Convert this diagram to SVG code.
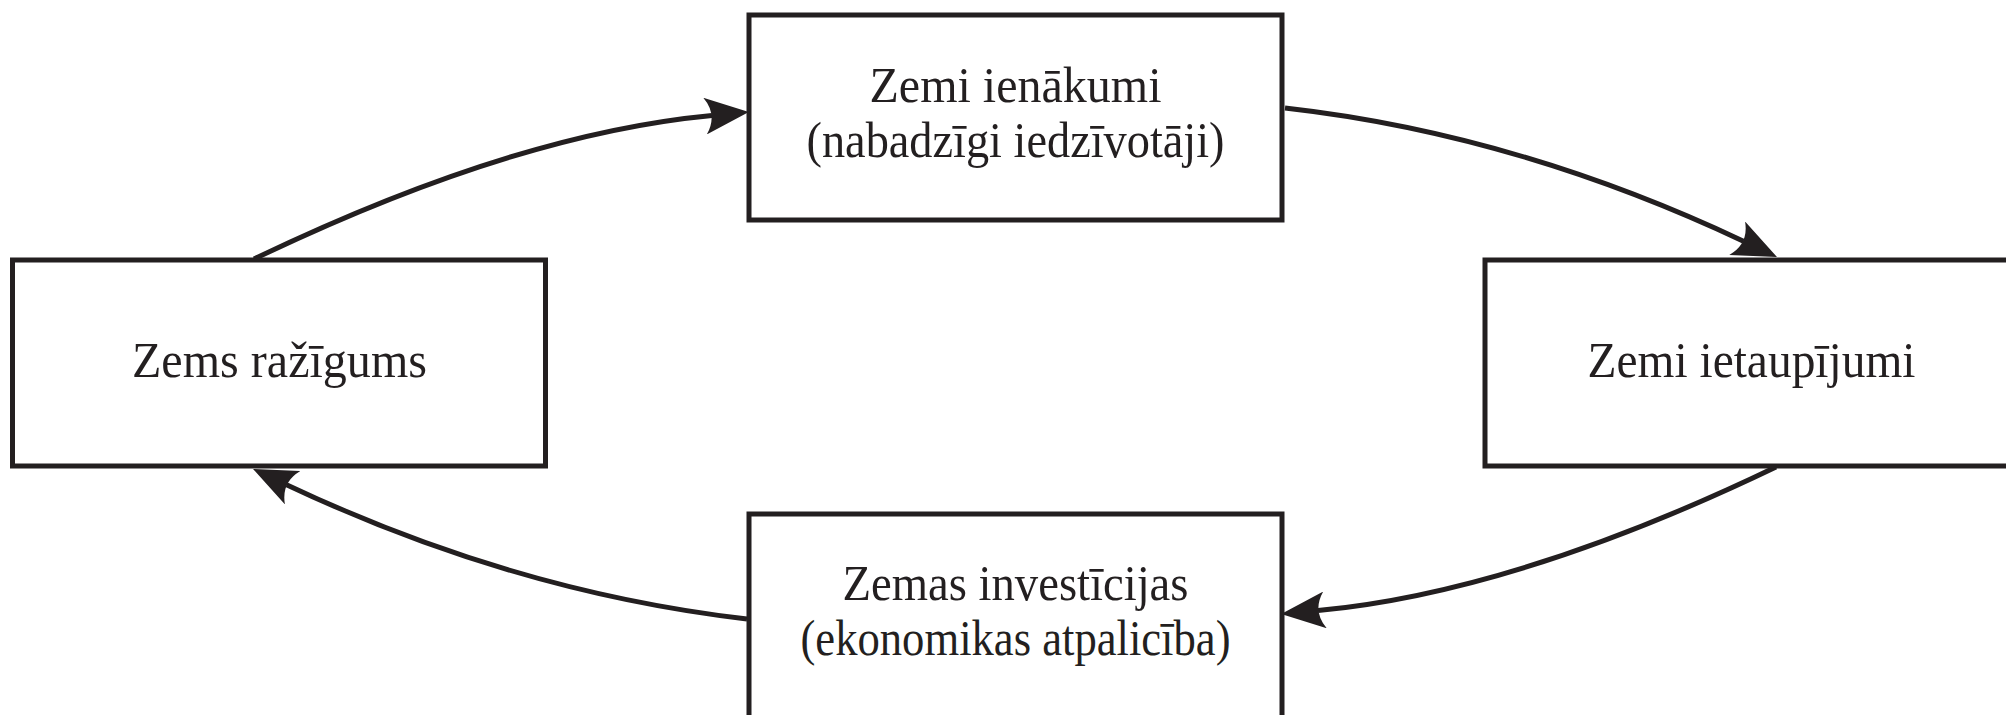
<svg xmlns="http://www.w3.org/2000/svg" width="2006" height="715" viewBox="0 0 2006 715">
<style>
.box{fill:#ffffff;stroke:#231f20;stroke-width:5}
.lbl{font-family:"Liberation Serif","Times New Roman",serif;font-size:50px;fill:#231f20;text-anchor:middle}
.con{fill:none;stroke:#231f20;stroke-width:5}
</style>
<defs>
<marker id="ah" viewBox="0 0 44 37" refX="7" refY="18.5" markerWidth="44" markerHeight="37" markerUnits="userSpaceOnUse" orient="auto">
<path d="M0,0 L44,18.5 L0,37 Q13,18.5 0,0 Z" fill="#231f20"/>
</marker>
</defs>
<rect width="2006" height="715" fill="#ffffff"/>
<g id="connectors">
<path class="con" d="M1285,108 Q1516,134 1743.5,241.2" marker-end="url(#ah)"/>
<path class="con" d="M1776,467 Q1516,592 1318,610.6" marker-end="url(#ah)"/>
<path class="con" d="M747,619 Q514,592 286.5,484.7" marker-end="url(#ah)"/>
<path class="con" d="M254,259 Q514,134 712,115.4" marker-end="url(#ah)"/>
</g>
<g id="node-ienakumi">
<rect class="box" x="749" y="15" width="533" height="205"/>
<text class="lbl" x="1015.5" y="102" textLength="292" lengthAdjust="spacingAndGlyphs">Zemi ienākumi</text>
<text class="lbl" x="1015.5" y="157" textLength="418" lengthAdjust="spacingAndGlyphs">(nabadzīgi iedzīvotāji)</text>
</g>
<g id="node-ietaupijumi">
<rect class="box" x="1485" y="260" width="533" height="206"/>
<text class="lbl" x="1751.5" y="377" textLength="328" lengthAdjust="spacingAndGlyphs">Zemi ietaupījumi</text>
</g>
<g id="node-investicijas">
<rect class="box" x="749" y="514" width="533" height="206"/>
<text class="lbl" x="1015.5" y="600" textLength="346" lengthAdjust="spacingAndGlyphs">Zemas investīcijas</text>
<text class="lbl" x="1015.5" y="655" textLength="430" lengthAdjust="spacingAndGlyphs">(ekonomikas atpalicība)</text>
</g>
<g id="node-razigums">
<rect class="box" x="12.5" y="260" width="533" height="206"/>
<text class="lbl" x="279.5" y="377" textLength="295" lengthAdjust="spacingAndGlyphs">Zems ražīgums</text>
</g>
</svg>
